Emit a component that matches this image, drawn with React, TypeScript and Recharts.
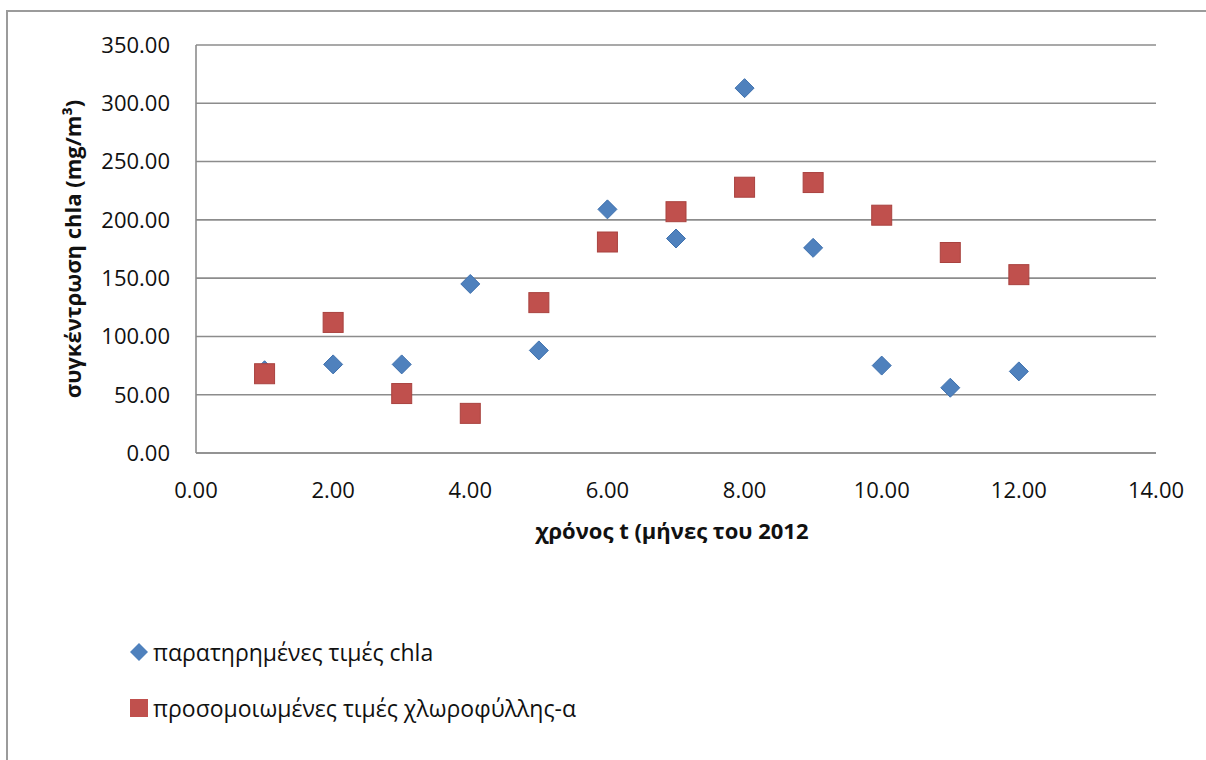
import React from "react";
import { ScatterChart, Scatter, XAxis, YAxis, CartesianGrid, Label } from "recharts";

const months = [1, 2, 3, 4, 5, 6, 7, 8, 9, 10, 11, 12];
const observed = [71, 76, 76, 145, 88, 209, 184, 313, 176, 75, 56, 70];
const simulated = [68, 112, 51, 34, 129, 181, 207, 228, 232, 204, 172, 153];
const xTicks = [0, 2, 4, 6, 8, 10, 12, 14];
const yTicks = [0, 50, 100, 150, 200, 250, 300, 350];
const seriesNames = ["παρατηρημένες τιμές chla", "προσομοιωμένες τιμές χλωροφύλλης-α"];
const xTitle = "χρόνος t (μήνες του 2012";
const yTitle = "συγκέντρωση chla (mg/m³)";

const BLUE = "#4F81BD";
const RED = "#C0504D";
const FONT = "'Open Sans', 'Noto Sans', sans-serif";

const obsData = months.map((m, i) => ({ x: m, y: observed[i] }));
const simData = months.map((m, i) => ({ x: m, y: simulated[i] }));

const DiamondShape = (props: any) => {
  const { cx, cy } = props;
  const r = 9.5;
  return (
    <polygon
      points={`${cx},${cy - r} ${cx + r},${cy} ${cx},${cy + r} ${cx - r},${cy}`}
      fill={BLUE}
      stroke="#3F71AE"
      strokeWidth={1}
    />
  );
};

const SquareShape = (props: any) => {
  const { cx, cy } = props;
  const s = 20;
  return <rect x={cx - s / 2} y={cy - s / 2} width={s} height={s} fill={RED} stroke="#A9423F" strokeWidth={1} />;
};

export default function App() {
  return (
    <div style={{ position: "absolute", left: 0, top: 0, width: 1206, height: 760, overflow: "hidden", background: "#fff" }}>
      <div
        style={{
          position: "absolute",
          left: 6,
          top: 10,
          width: 1400,
          height: 1000,
          border: "2px solid #9b9b9b",
        }}
      />
      <div style={{ position: "absolute", left: 0, top: 0 }}>
        <ScatterChart width={1206} height={760} margin={{ top: 45, right: 50, bottom: 207, left: 20 }}>
          <CartesianGrid vertical={false} stroke="#8c8c8c" strokeWidth={1.6} />
          <XAxis
            type="number"
            dataKey="x"
            domain={[0, 14]}
            ticks={xTicks}
            tickFormatter={(v: number) => v.toFixed(2)}
            axisLine={{ stroke: "#8c8c8c", strokeWidth: 1.6 }}
            tickLine={false}
            tickSize={0}
            tickMargin={29}
            height={100}
            interval={0}
            tick={{ fill: "#111", fontSize: 22, fontFamily: FONT }}
          >
            <Label
              content={(p: any) => {
                const vb = p.viewBox;
                return (
                  <text
                    x={vb.x + vb.width / 2 - 4}
                    y={vb.y + 80}
                    textAnchor="middle"
                    dominantBaseline="middle"
                    fontFamily={FONT}
                    fontWeight="bold"
                    fontSize={22}
                    fill="#111"
                  >
                    {xTitle}
                  </text>
                );
              }}
            />
          </XAxis>
          <YAxis
            type="number"
            dataKey="y"
            domain={[0, 350]}
            ticks={yTicks}
            tickFormatter={(v: number) => v.toFixed(2)}
            axisLine={{ stroke: "#8c8c8c", strokeWidth: 1.6 }}
            tickLine={false}
            tickSize={0}
            tickMargin={26}
            width={176}
            interval={0}
            tick={{ fill: "#111", fontSize: 22, fontFamily: FONT }}
          >
            <Label
              content={(p: any) => {
                const vb = p.viewBox;
                const cx = vb.x + 55;
                const cy = vb.y + vb.height / 2;
                return (
                  <text
                    x={cx}
                    y={cy}
                    transform={`rotate(-90, ${cx}, ${cy})`}
                    textAnchor="middle"
                    dominantBaseline="middle"
                    fontFamily={FONT}
                    fontWeight="bold"
                    fontSize={22}
                    fill="#111"
                  >
                    {yTitle}
                  </text>
                );
              }}
            />
          </YAxis>
          <Scatter name={seriesNames[0]} data={obsData} shape={DiamondShape} isAnimationActive={false} />
          <Scatter name={seriesNames[1]} data={simData} shape={SquareShape} isAnimationActive={false} />
        </ScatterChart>
      </div>
      <div style={{ position: "absolute", left: 128, top: 637, fontFamily: FONT, fontSize: 23, color: "#111" }}>
        <div style={{ display: "flex", alignItems: "center", height: 30 }}>
          <svg width={22} height={22} style={{ marginRight: 3 }}>
            <polygon points="11,2 20,11 11,20 2,11" fill={BLUE} />
          </svg>
          <span>{seriesNames[0]}</span>
        </div>
        <div style={{ display: "flex", alignItems: "center", height: 30, marginTop: 26 }}>
          <svg width={22} height={22} style={{ marginRight: 3 }}>
            <rect x={2} y={2} width={18} height={18} fill={RED} />
          </svg>
          <span>{seriesNames[1]}</span>
        </div>
      </div>
    </div>
  );
}
